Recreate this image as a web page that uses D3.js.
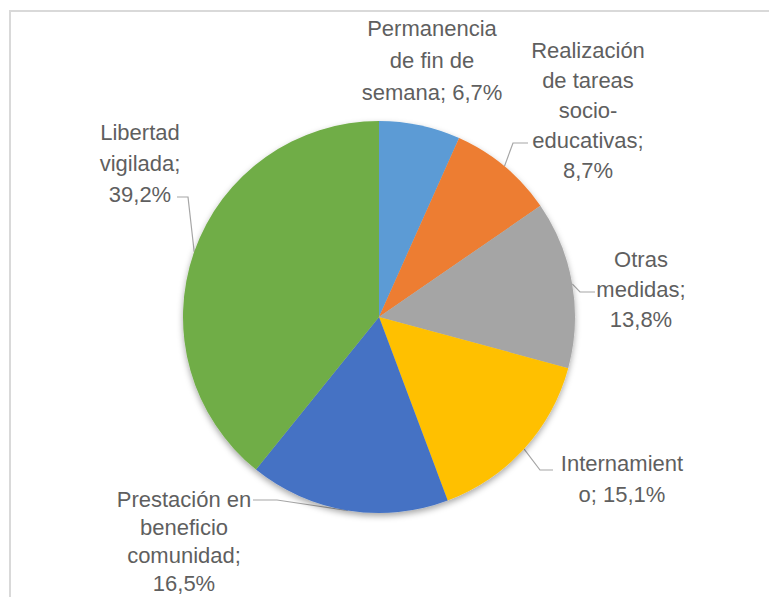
<!DOCTYPE html>
<html>
<head>
<meta charset="utf-8">
<script src="https://cdn.jsdelivr.net/npm/d3@7"></script>
<style>
  body { margin: 0; background: #fff; }
  svg { display: block; }
  .lbl { font-family: "Liberation Sans", Arial, sans-serif; font-size: 22px; fill: #5f5f5f; }
  .leader { fill: none; stroke: #a6a6a6; stroke-width: 1.2; }
</style>
</head>
<body>
<div id="chart"></div>
<script>
// data
var categories = ["Permanencia de fin de semana", "Realización de tareas socio-educativas",
                  "Otras medidas", "Internamiento", "Prestación en beneficio comunidad", "Libertad vigilada"];
var values = [6.7, 8.7, 13.8, 15.1, 16.5, 39.2];
var labelLines = [
  ["Permanencia", "de fin de", "semana; 6,7%"],
  ["Realización", "de tareas", "socio-", "educativas;", "8,7%"],
  ["Otras", "medidas;", "13,8%"],
  ["Internamient", "o; 15,1%"],
  ["Prestación en", "beneficio", "comunidad;", "16,5%"],
  ["Libertad", "vigilada;", "39,2%"]
];
var colors = ["#5b9bd5", "#ed7d31", "#a5a5a5", "#ffc000", "#4472c4", "#70ad47"];

// label layout (centre x, first line y, line height, leader elbow + end)
var labelPos = [
  {x: 432, y: 28, lh: 32, leader: null},
  {x: 588, y: 50, lh: 30, leader: [[513, 143], [528, 143]]},
  {x: 641, y: 259, lh: 30, leader: [[580, 292], [595, 292]]},
  {x: 622, y: 463, lh: 31, leader: [[540, 470], [553, 470]]},
  {x: 184, y: 499, lh: 28, leader: [[277, 500], [253, 500]]},
  {x: 140, y: 132, lh: 31, leader: [[188, 197], [177, 197]]}
];

var width = 769, height = 597,
    cx = 379, cy = 317, radius = 196;

var svg = d3.select("#chart").append("svg")
    .attr("width", width)
    .attr("height", height);

var defs = svg.append("defs");
var shadow = defs.append("filter").attr("id", "shadow")
    .attr("x", "-20%").attr("y", "-20%").attr("width", "140%").attr("height", "140%");
shadow.append("feDropShadow")
    .attr("dx", 0).attr("dy", 3).attr("stdDeviation", 3)
    .attr("flood-color", "#000").attr("flood-opacity", 0.35);

// chart border
svg.append("rect")
    .attr("x", 10).attr("y", 11)
    .attr("width", width + 20).attr("height", height + 20)
    .attr("fill", "none")
    .attr("stroke", "#d9d9d9")
    .attr("stroke-width", 2);

var pie = d3.pie().sort(null).value(function(d) { return d; });
var arcs = pie(values);

var arc = d3.arc().innerRadius(0).outerRadius(radius);

var g = svg.append("g").attr("transform", "translate(" + cx + "," + cy + ")");

// leaders under the pie
var line = d3.line();
arcs.forEach(function(a, i) {
  var lp = labelPos[i];
  if (!lp.leader) return;
  var mid = (a.startAngle + a.endAngle) / 2;
  var p0 = [cx + radius * Math.sin(mid), cy - radius * Math.cos(mid)];
  svg.insert("path", "g")
      .attr("class", "leader")
      .attr("d", line([p0, lp.leader[0], lp.leader[1]]));
});

g.append("g")
    .attr("filter", "url(#shadow)")
  .selectAll("path")
    .data(arcs)
  .enter().append("path")
    .attr("d", arc)
    .attr("fill", function(d, i) { return colors[i]; });

// labels
labelLines.forEach(function(lines, i) {
  var lp = labelPos[i];
  var t = svg.append("text")
      .attr("class", "lbl")
      .attr("text-anchor", "middle");
  lines.forEach(function(s, j) {
    t.append("tspan")
        .attr("x", lp.x)
        .attr("y", lp.y + j * lp.lh)
        .attr("dy", "0.35em")
        .text(s);
  });
});
</script>
</body>
</html>
